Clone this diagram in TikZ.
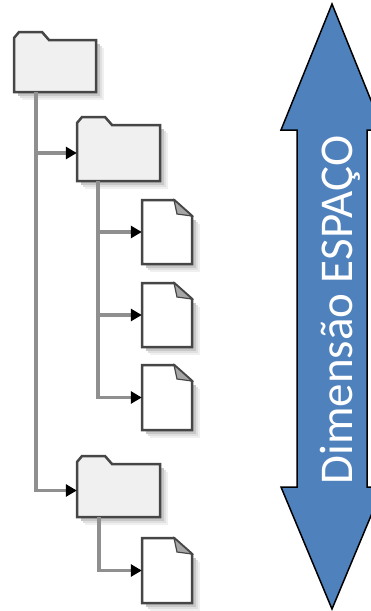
\documentclass[tikz,border=0pt]{standalone}
\usepackage{fontspec}
\newfontfamily\carlito{Carlito}
\usetikzlibrary{arrows.meta,fit,calc}
\definecolor{arrowblue}{HTML}{4F81BD}
\definecolor{folderfill}{HTML}{F0F0F0}
\definecolor{outlinegray}{HTML}{464646}
\definecolor{conngray}{HTML}{8F8F8F}
\tikzset{
  folderline/.style={draw=outlinegray, line width=2.5pt, fill=folderfill, line join=miter},
  fileline/.style={draw=outlinegray, line width=2.5pt, fill=white, line join=miter},
  foldtri/.style={draw=outlinegray, line width=1.2pt, fill=black!35},
  conn/.style={draw=conngray, line width=3.5pt, -{Triangle[length=11pt,width=12pt,color=black]}},
  anchorbox/.style={inner sep=0pt, draw=none},
  bigarrow/.style={fill=arrowblue, draw=black, line width=1.5pt, line join=miter},
  dimlabel/.style={text=white, font=\carlito\fontsize{47}{47}\selectfont, inner sep=0pt}
}
% #1 name, #2 left, #3 tab top, #4 right, #5 bottom
\newcommand{\fldr}[5]{%
  \foreach \o/\c in {8/black!6,6/black!12,4/black!22}{%
    \fill[\c] (#2+\o,#3+8+\o) rectangle (#4+\o,#5+\o);}
  \draw[folderline] (#2,#5) -- (#2,#3+6) -- (#2+5,#3) -- (#2+28,#3) -- (#2+35,#3+8)
     -- (#4,#3+8) -- (#4,#5) -- cycle;
  \node[anchorbox, fit={(#2,#3+8) (#4,#5)}] (#1) {};
}
% #1 name, #2 left, #3 top, #4 right, #5 bottom
\newcommand{\fyle}[5]{%
  \foreach \o/\c in {8/black!6,6/black!12,4/black!22}{%
    \fill[\c] (#2+\o,#3+16+\o) -- (#4+\o,#3+16+\o) -- (#4+\o,#5+\o) -- (#2+\o,#5+\o) -- cycle;}
  \draw[fileline] (#2,#3) -- (#4-18,#3) -- (#4,#3+16) -- (#4,#5) -- (#2,#5) -- cycle;
  \draw[foldtri] (#4-18,#3) -- (#4-15,#3+14) -- (#4,#3+16) -- cycle;
  \node[anchorbox, fit={(#2,#3) (#4,#5)}] (#1) {};
}
\begin{document}
\begin{tikzpicture}[x=1pt,y=-1pt]
\useasboundingbox (0,0) rectangle (371,611);
% big double arrow
\draw[bigarrow] (332,4) -- (383,130) -- (367,130) -- (367,487) -- (383,487)
  -- (332,609) -- (281,487) -- (297,487) -- (297,130) -- (281,130) -- cycle;
\node[dimlabel, rotate=90, anchor=base] (dim) at (352,310) {Dimensão ESPAÇO};
% folders and files
\fldr{F1}{14}{32}{96}{92}
\fldr{F2}{77}{117}{160}{181}
\fldr{F3}{77}{456}{160}{517}
\fyle{D1}{142}{200}{192}{264}
\fyle{D2}{142}{283}{192}{347}
\fyle{D3}{142}{365}{192}{430}
\fyle{D4}{142}{538}{192}{603}
% connectors
\draw[conn] ([xshift=22pt]F1.south west) |- (F2.west);
\draw[conn] ([xshift=22pt]F1.south west) |- (F3.west);
\draw[conn] ([xshift=21pt]F2.south west) |- (D1.west);
\draw[conn] ([xshift=21pt]F2.south west) |- (D2.west);
\draw[conn] ([xshift=21pt]F2.south west) |- (D3.west);
\draw[conn] ([xshift=22pt]F3.south west) |- (D4.west);
\end{tikzpicture}
\end{document}
